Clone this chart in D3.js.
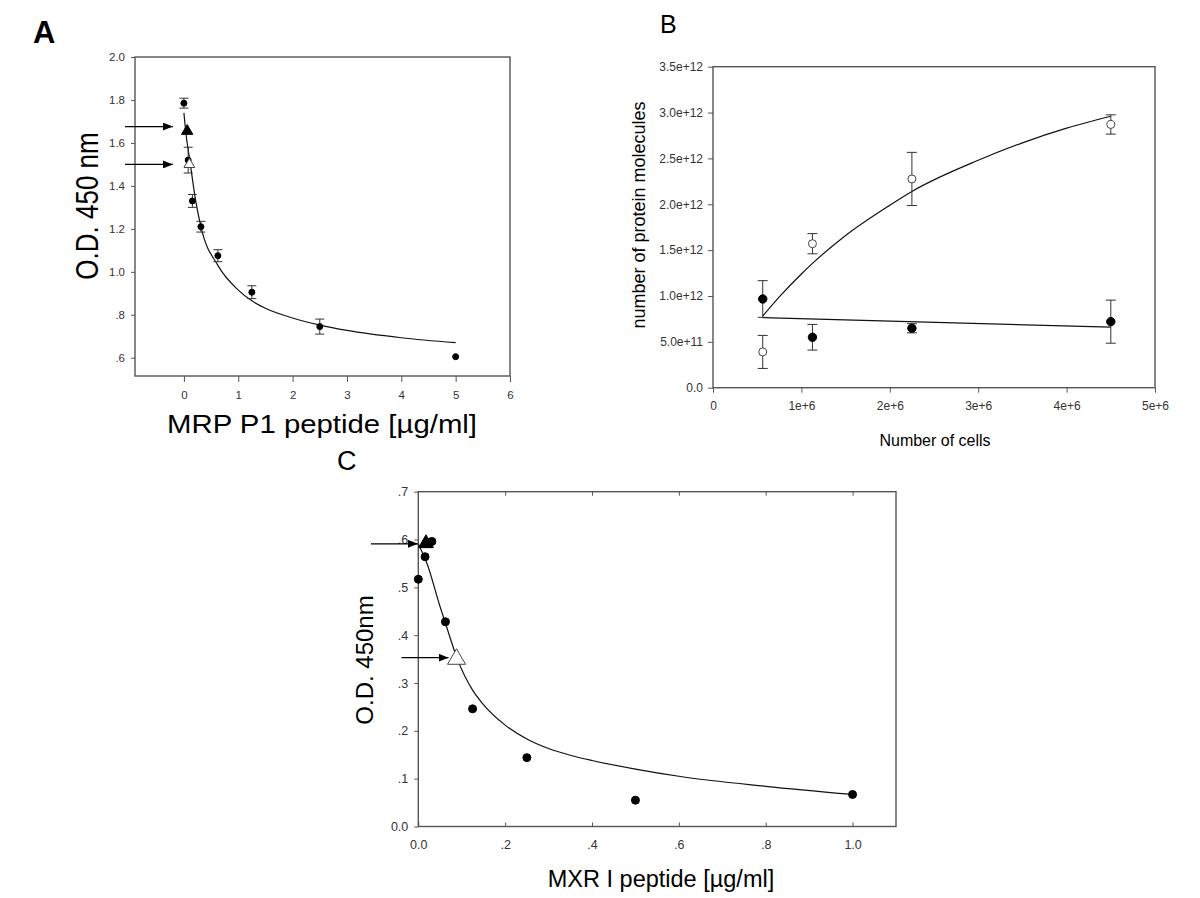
<!DOCTYPE html>
<html>
<head>
<meta charset="utf-8">
<script src="https://cdn.jsdelivr.net/npm/d3@7"></script>
<style>
  body { margin: 0; background: #fff; }
  svg { font-family: "Liberation Sans", Arial, sans-serif; }
  .axis line { stroke: #555; }
  .axis text { fill: #333; }
</style>
</head>
<body>
<svg width="1200" height="898"></svg>
<script>
// ---------- Panel A : MRP P1 peptide ----------
var aConc = [0, 0.078, 0.156, 0.3125, 0.625, 1.25, 2.5, 5];
var aOD   = [1.785, 1.52, 1.33, 1.21, 1.075, 0.905, 0.745, 0.605];
var aErr  = [0.023, 0.06, 0.03, 0.025, 0.028, 0.03, 0.035, 0];
// triangles (filled / open) pointed by arrows
var aTriConc = [0.06, 0.1];
var aTriOD   = [1.655, 1.50];
var aTriFill = ["#000", "#fff"];
var aArrowOD = [1.676, 1.50];
// fitted curve
var aFitConc = [0, 0.03, 0.108, 0.217, 0.3125, 0.625, 1, 1.25, 1.5, 2, 2.5, 3, 4, 5];
var aFitOD   = [1.74, 1.66, 1.52, 1.33, 1.21, 1.03, 0.915, 0.865, 0.83, 0.785, 0.752, 0.727, 0.693, 0.67];
var aXTicks  = [0, 1, 2, 3, 4, 5, 6];
var aXLabels = ["0", "1", "2", "3", "4", "5", "6"];
var aYTicks  = [0.6, 0.8, 1.0, 1.2, 1.4, 1.6, 1.8, 2.0];
var aYLabels = [".6", ".8", "1.0", "1.2", "1.4", "1.6", "1.8", "2.0"];

// ---------- Panel B : protein molecules vs cells ----------
var bCells     = [5.625e5, 1.125e6, 2.25e6, 4.5e6];
var bOpen      = [0.39e12, 1.57e12, 2.276e12, 2.87e12];
var bOpenErr   = [0.18e12, 0.11e12, 0.29e12, 0.105e12];
var bFilled    = [0.967e12, 0.55e12, 0.648e12, 0.72e12];
var bFilledErr = [0.2e12, 0.14e12, 0.05e12, 0.235e12];
var bOpenFitX  = [5.625e5, 7.5e5, 1e6, 1.125e6, 1.5e6, 2e6, 2.25e6, 3e6, 3.5e6, 4e6, 4.5e6];
var bOpenFitY  = [0.78e12, 0.99e12, 1.24e12, 1.355e12, 1.66e12, 1.99e12, 2.14e12, 2.48e12, 2.67e12, 2.83e12, 2.96e12];
var bFillFitX  = [5.625e5, 4.5e6];
var bFillFitY  = [0.765e12, 0.66e12];
var bXTicks  = [0, 1e6, 2e6, 3e6, 4e6, 5e6];
var bXLabels = ["0", "1e+6", "2e+6", "3e+6", "4e+6", "5e+6"];
var bYTicks  = [0, 0.5e12, 1e12, 1.5e12, 2e12, 2.5e12, 3e12, 3.5e12];
var bYLabels = ["0.0", "5.0e+11", "1.0e+12", "1.5e+12", "2.0e+12", "2.5e+12", "3.0e+12", "3.5e+12"];

// ---------- Panel C : MXR I peptide ----------
var cConc = [0, 0.0156, 0.03125, 0.0625, 0.125, 0.25, 0.5, 1.0];
var cOD   = [0.517, 0.564, 0.596, 0.428, 0.246, 0.144, 0.055, 0.067];
var cTriConc = [0.0177, 0.088];
var cTriOD   = [0.592, 0.35];
var cTriFill = ["#000", "#fff"];
var cArrowOD = [0.591, 0.353];
var cFitConc = [0, 0.02, 0.05, 0.0625, 0.09, 0.125, 0.15, 0.2, 0.25, 0.3, 0.35, 0.4, 0.5, 0.6, 0.8, 1.0];
var cFitOD   = [0.59, 0.55, 0.46, 0.425, 0.35, 0.285, 0.255, 0.212, 0.183, 0.163, 0.149, 0.138, 0.12, 0.105, 0.084, 0.067];
var cXTicks  = [0, 0.2, 0.4, 0.6, 0.8, 1.0];
var cXLabels = ["0.0", ".2", ".4", ".6", ".8", "1.0"];
var cYTicks  = [0, 0.1, 0.2, 0.3, 0.4, 0.5, 0.6, 0.7];
var cYLabels = ["0.0", ".1", ".2", ".3", ".4", ".5", ".6", ".7"];


var svg = d3.select("svg");

// 矢印
svg.append("defs").append("marker")
    .attr("id", "arrow")
    .attr("viewBox", "0 0 10 8")
    .attr("refX", 10).attr("refY", 4)
    .attr("markerWidth", 10).attr("markerHeight", 8)
    .attr("markerUnits", "userSpaceOnUse")
    .attr("orient", "auto")
  .append("path")
    .attr("d", "M0,0L10,4L0,8z")
    .attr("fill", "#000");

function frame(g, x, y) {
    var r = x.range(), t = y.range();
    g.append("rect")
	.attr("x", r[0]).attr("y", t[1])
	.attr("width", r[1] - r[0]).attr("height", t[0] - t[1])
	.attr("fill", "none").attr("stroke", "#555").attr("stroke-width", 1.4);
}

function axis(g, ax, transform, fs) {
    var a = g.append("g").attr("class", "axis")
	.attr("transform", transform)
	.call(ax);
    a.select(".domain").remove();
    a.attr("font-family", null).attr("font-size", fs);
    return a;
}

function fmt(labels, ticks) {
    return function(d) { return labels[ticks.indexOf(d)]; };
}

function errorBars(g, x, y, xs, ys, es, cap) {
    xs.forEach(function(xv, i) {
	if (!es[i]) return;
	var cx = x(xv), y1 = y(ys[i] - es[i]), y2 = y(ys[i] + es[i]);
	g.append("line").attr("x1", cx).attr("x2", cx).attr("y1", y1).attr("y2", y2)
	    .attr("stroke", "#333").attr("stroke-width", 1);
	[y1, y2].forEach(function(yy) {
	    g.append("line").attr("x1", cx - cap).attr("x2", cx + cap).attr("y1", yy).attr("y2", yy)
		.attr("stroke", "#333").attr("stroke-width", 1);
	});
    });
}

function fitLine(g, x, y, xs, ys, curve) {
    g.append("path")
	.datum(xs.map(function(d, i) { return [d, ys[i]]; }))
	.attr("fill", "none").attr("stroke", "#111").attr("stroke-width", 1.2)
	.attr("d", d3.line().curve(curve || d3.curveMonotoneX)
	      .x(function(d) { return x(d[0]); })
	      .y(function(d) { return y(d[1]); }));
}

function dots(g, x, y, xs, ys, r, fill) {
    g.selectAll(null).data(xs).enter().append("circle")
	.attr("cx", function(d) { return x(d); })
	.attr("cy", function(d, i) { return y(ys[i]); })
	.attr("r", r)
	.attr("fill", fill).attr("stroke", fill == "#fff" ? "#444" : "#000").attr("stroke-width", 1);
}

function triangles(g, x, y, xs, ys, fills, sizes) {
    xs.forEach(function(xv, i) {
	g.append("path")
	    .attr("d", d3.symbol().type(d3.symbolTriangle).size(sizes[i])())
	    .attr("transform", "translate(" + x(xv) + "," + y(ys[i]) + ")")
	    .attr("fill", fills[i]).attr("stroke", fills[i] == "#fff" ? "#444" : "#000").attr("stroke-width", 1);
    });
}

function arrow(g, x1, x2, yy) {
    g.append("line").attr("x1", x1).attr("x2", x2).attr("y1", yy).attr("y2", yy)
	.attr("stroke", "#000").attr("stroke-width", 1.4)
	.attr("marker-end", "url(#arrow)");
}


//////////////
// Panel A
//////////////
var ax = d3.scaleLinear().domain([-0.9, 6]).range([135, 510]);
var ay = d3.scaleLinear().domain([0.515, 2.0]).range([376, 57]);
var gA = svg.append("g");
frame(gA, ax, ay);
axis(gA, d3.axisBottom(ax).tickValues(aXTicks).tickFormat(fmt(aXLabels, aXTicks))
     .tickSize(6).tickPadding(9), "translate(0,376)", 11.5);
axis(gA, d3.axisLeft(ay).tickValues(aYTicks).tickFormat(fmt(aYLabels, aYTicks))
     .tickSize(4).tickPadding(6), "translate(135,0)", 11.5);
fitLine(gA, ax, ay, aFitConc, aFitOD);
errorBars(gA, ax, ay, aConc, aOD, aErr, 4.5);
dots(gA, ax, ay, aConc, aOD, 3, "#000");
triangles(gA, ax, ay, aTriConc, aTriOD, aTriFill, [55, 50]);
aArrowOD.forEach(function(v) { arrow(gA, ax(-0.9) - 10, ax(0) - 11, ay(v)); });

gA.append("text").attr("x", 33).attr("y", 43)
    .attr("font-size", 31).attr("font-weight", "bold").text("A");
gA.append("text")
    .attr("transform", "translate(98,206) scale(1.18,1) rotate(-90)")
    .attr("text-anchor", "middle").attr("font-size", 26)
    .text("O.D. 450 nm");
gA.append("text").attr("x", 322).attr("y", 433)
    .attr("text-anchor", "middle").attr("font-size", 25)
    .attr("textLength", 310).attr("lengthAdjust", "spacingAndGlyphs")
    .text("MRP P1 peptide [µg/ml]");


//////////////
// Panel B
//////////////
var bx = d3.scaleLinear().domain([0, 5e6]).range([713, 1155]);
var by = d3.scaleLinear().domain([0, 3.5e12]).range([387.7, 66.7]);
var gB = svg.append("g");
frame(gB, bx, by);
axis(gB, d3.axisBottom(bx).tickValues(bXTicks).tickFormat(fmt(bXLabels, bXTicks))
     .tickSize(5).tickPadding(9), "translate(0,387.7)", 12);
axis(gB, d3.axisLeft(by).tickValues(bYTicks).tickFormat(fmt(bYLabels, bYTicks))
     .tickSize(5).tickPadding(5), "translate(713,0)", 12);
fitLine(gB, bx, by, bOpenFitX, bOpenFitY);
fitLine(gB, bx, by, bFillFitX, bFillFitY, d3.curveLinear);
errorBars(gB, bx, by, bCells, bOpen, bOpenErr, 5);
errorBars(gB, bx, by, bCells, bFilled, bFilledErr, 5);
dots(gB, bx, by, bCells, bOpen, 4, "#fff");
dots(gB, bx, by, bCells, bFilled, 4.2, "#000");

gB.append("text").attr("x", 660).attr("y", 33)
    .attr("font-size", 25).text("B");
gB.append("text")
    .attr("transform", "translate(645,215) rotate(-90)")
    .attr("text-anchor", "middle").attr("font-size", 18)
    .text("number of protein molecules");
gB.append("text").attr("x", 935).attr("y", 446)
    .attr("text-anchor", "middle").attr("font-size", 16)
    .text("Number of cells");


//////////////
// Panel C
//////////////
var cx = d3.scaleLinear().domain([0, 1.1]).range([418.3, 896]);
var cy = d3.scaleLinear().domain([0, 0.7]).range([826.5, 491.7]);
var gC = svg.append("g");
frame(gC, cx, cy);
axis(gC, d3.axisBottom(cx).tickValues(cXTicks).tickFormat(fmt(cXLabels, cXTicks))
     .tickSize(-4).tickPadding(14), "translate(0,826.5)", 12.5);
axis(gC, d3.axisTop(cx).tickValues(cXTicks.slice(1)).tickFormat("")
     .tickSize(-4), "translate(0,491.7)", 12.5);
axis(gC, d3.axisLeft(cy).tickValues(cYTicks).tickFormat(fmt(cYLabels, cYTicks))
     .tickSize(4).tickPadding(6), "translate(418.3,0)", 12.5);
fitLine(gC, cx, cy, cFitConc, cFitOD);
dots(gC, cx, cy, cConc, cOD, 4, "#000");
triangles(gC, cx, cy, cTriConc, cTriOD, cTriFill, [95, 140]);
cArrowOD.forEach(function(v, i) {
    var tip = cx(cTriConc[i]) - 8;
    arrow(gC, tip - 47, tip, cy(v));
});

gC.append("text").attr("x", 337).attr("y", 470)
    .attr("font-size", 27).text("C");
gC.append("text")
    .attr("transform", "translate(373,660) rotate(-90)")
    .attr("text-anchor", "middle").attr("font-size", 24)
    .text("O.D. 450nm");
gC.append("text").attr("x", 661).attr("y", 887)
    .attr("text-anchor", "middle").attr("font-size", 23.5)
    .text("MXR I peptide [µg/ml]");
</script>
</body>
</html>
